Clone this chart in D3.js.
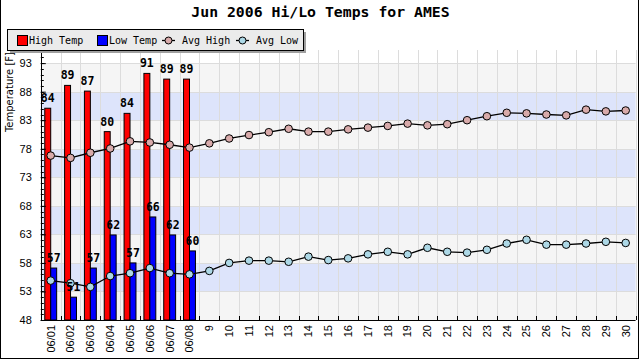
<!DOCTYPE html>
<html><head><meta charset="utf-8">
<script src="https://cdn.jsdelivr.net/npm/d3@7"></script>
<style>body{margin:0;background:#fff}svg{display:block}</style>
</head><body>
<svg id="c" width="640" height="360"></svg>
<script>
const categories = ["06/01","06/02","06/03","06/04","06/05","06/06","06/07","06/08","9","10","11","12","13","14","15","16","17","18","19","20","21","22","23","24","25","26","27","28","29","30"];
const highTemp = [85.1, 89.1, 88.1, 81.0, 84.2, 91.2, 90.2, 90.2];
const lowTemp = [57.1, 52.0, 57.1, 62.9, 58.0, 66.05, 62.9, 60.1];
const highLabels = ["84","89","87","80","84","91","89","89"];
const lowLabels = ["57","51","57","62","57","66","62","60"];
const avgHigh = [76.8,76.4,77.3,78.05,79.3,79.1,78.7,78.2,78.95,79.8,80.4,80.9,81.5,81.0,81.0,81.4,81.7,82.0,82.4,82.1,82.3,83.0,83.7,84.3,84.2,84.0,83.85,84.85,84.55,84.7];
const avgLow = [54.9,54.45,53.8,55.7,56.2,57.1,56.2,56.0,56.6,58.0,58.4,58.4,58.2,59.1,58.5,58.8,59.5,59.95,59.5,60.65,59.95,59.8,60.3,61.4,62.05,61.2,61.2,61.4,61.7,61.5];
const yTicks = [48,53,58,63,68,73,78,83,88,93];
const seriesNames = ["High Temp","Low Temp","Avg High","Avg Low"];
const title = "Jun 2006 Hi/Lo Temps for AMES";
const yTitle = "Temperature [F]";

const svg = d3.select("#c");
const L = 40.8, R = 635.6, T = 50, B = 320;
const x = d3.scaleBand().domain(categories).range([L, R]).padding(0);
const y = d3.scaleLinear().domain([48, 95.3]).range([B, T]);
const bw = x.bandwidth();
const inner = d3.scaleBand().domain(["high","low"]).range([-bw*0.3, bw*0.3]).padding(0);
const cx = c => x(c) + bw/2;

// outer frame
svg.append("line").attr("x1",0.5).attr("x2",0.5).attr("y1",0).attr("y2",358.5).attr("stroke","#000");
svg.append("line").attr("x1",638.5).attr("x2",638.5).attr("y1",0).attr("y2",358.5).attr("stroke","#000");
svg.append("line").attr("x1",0).attr("x2",639).attr("y1",358.5).attr("y2",358.5).attr("stroke","#000");

// plot background
svg.append("rect").attr("x",L).attr("y",T).attr("width",R-L).attr("height",B-T).attr("fill","#ffffff");
// bands
for (let i = 0; i < yTicks.length - 1; i++) {
  const a = yTicks[i], b = yTicks[i+1];
  svg.append("rect").attr("x",L).attr("width",R-L)
    .attr("y",y(b)).attr("height",y(a)-y(b))
    .attr("fill", i % 2 === 0 ? "#f5f5f5" : "#dde4fb");
}
// horizontal grid
svg.append("g").selectAll("line").data(yTicks.slice(1)).join("line")
  .attr("x1",L).attr("x2",R).attr("y1",d=>Math.round(y(d))+0.5).attr("y2",d=>Math.round(y(d))+0.5)
  .attr("stroke","#dcdcdc");
// vertical grid at category boundaries
const bounds = categories.map(c => x(c)).concat([R]);
svg.append("g").selectAll("line").data(bounds.slice(1)).join("line")
  .attr("x1",d=>Math.round(d)+0.5).attr("x2",d=>Math.round(d)+0.5).attr("y1",T).attr("y2",B)
  .attr("stroke","#dcdcdc");

// bars
const barG = svg.append("g");
barG.selectAll("rect.h").data(highTemp).join("rect").attr("class","h")
  .attr("x",(d,i)=>cx(categories[i])+inner("high")).attr("width",inner.bandwidth())
  .attr("y",d=>y(d)).attr("height",d=>B-y(d))
  .attr("fill","#ff0000").attr("stroke","#000").attr("stroke-width",1);
barG.selectAll("rect.l").data(lowTemp).join("rect").attr("class","l")
  .attr("x",(d,i)=>cx(categories[i])+inner("low")).attr("width",inner.bandwidth())
  .attr("y",d=>y(d)).attr("height",d=>B-y(d))
  .attr("fill","#0000ff").attr("stroke","#000").attr("stroke-width",1);

// y axis
const yAxis = d3.axisLeft(y).tickValues(yTicks).tickSize(-5).tickPadding(9).tickFormat(d3.format("d"));
const ya = svg.append("g").attr("transform",`translate(${L},0)`).call(yAxis);
ya.select(".domain").remove();
ya.selectAll("text").attr("font-family","Liberation Sans, Arial, sans-serif").attr("font-size",11).attr("fill","#000");
const minor = d3.range(48, 96, 1);
svg.append("g").selectAll("line").data(minor).join("line")
  .attr("x1",L).attr("x2",L+3).attr("y1",d=>Math.round(y(d))+0.5).attr("y2",d=>Math.round(y(d))+0.5)
  .attr("stroke","#000");
svg.append("line").attr("x1",Math.round(L)+0.5).attr("x2",Math.round(L)+0.5).attr("y1",T).attr("y2",B).attr("stroke","#000");

// x axis
const xAxis = d3.axisBottom(x).tickSize(0);
const xa = svg.append("g").attr("transform",`translate(0,${B})`).call(xAxis);
xa.select(".domain").remove();
xa.selectAll("text").attr("transform","rotate(-90)").attr("x",-5).attr("y",0).attr("dy","0.35em")
  .attr("text-anchor","end").attr("font-family","Liberation Sans, Arial, sans-serif").attr("font-size",11).attr("fill","#000");
svg.append("line").attr("x1",L).attr("x2",R).attr("y1",B+0.5).attr("y2",B+0.5).attr("stroke","#000");
svg.append("g").selectAll("line").data(bounds.slice(1)).join("line")
  .attr("x1",d=>Math.round(d)+0.5).attr("x2",d=>Math.round(d)+0.5).attr("y1",B-4).attr("y2",B)
  .attr("stroke","#000");

// lines
const line = d3.line().x((d,i)=>cx(categories[i])).y(d=>y(d));
function drawLine(data, fill) {
  svg.append("path").datum(data).attr("d",line).attr("fill","none").attr("stroke","#000").attr("stroke-width",1.3);
  svg.append("g").selectAll("circle").data(data).join("circle")
    .attr("cx",(d,i)=>cx(categories[i])).attr("cy",d=>y(d)).attr("r",3.8)
    .attr("fill",fill).attr("stroke","#000").attr("stroke-width",1);
}
drawLine(avgHigh, "#d8aaaa");
drawLine(avgLow, "#add8e6");

// bar value labels
const lf = "DejaVu Sans Mono, monospace";
svg.append("g").selectAll("text").data(highTemp).join("text")
  .attr("x",(d,i)=>cx(categories[i])+inner("high")+inner.bandwidth()/2).attr("y",d=>y(d)-6)
  .attr("text-anchor","middle").attr("font-family",lf).attr("font-weight","bold").attr("font-size",11.5)
  .text((d,i)=>highLabels[i]);
svg.append("g").selectAll("text").data(lowTemp).join("text")
  .attr("x",(d,i)=>cx(categories[i])+inner("low")+inner.bandwidth()/2).attr("y",d=>y(d)-6)
  .attr("text-anchor","middle").attr("font-family",lf).attr("font-weight","bold").attr("font-size",11.5)
  .text((d,i)=>lowLabels[i]);

// title
svg.append("text").attr("x",320.5).attr("y",17).attr("text-anchor","middle")
  .attr("font-family",lf).attr("font-weight","bold").attr("font-size",14.8).text(title);

// y title
svg.append("text").attr("transform","translate(12.5,52) rotate(-90)").attr("text-anchor","end")
  .attr("font-family","DejaVu Sans, sans-serif").attr("font-size",10).text(yTitle);

// legend
const lg = svg.append("g");
lg.append("rect").attr("x",10).attr("y",32).attr("width",296).attr("height",21).attr("fill","#a0a0a0");
lg.append("rect").attr("x",7.5).attr("y",29.5).attr("width",296).attr("height",21).attr("fill","#ebebeb").attr("stroke","#000");
const legItems = [
  {name: seriesNames[0], type:"bar", color:"#ff0000", x:17},
  {name: seriesNames[1], type:"bar", color:"#0000ff", x:97},
  {name: seriesNames[2], type:"line", color:"#d8aaaa", x:162},
  {name: seriesNames[3], type:"line", color:"#add8e6", x:236}
];
legItems.forEach(it => {
  if (it.type === "bar") {
    lg.append("rect").attr("x",it.x+0.5).attr("y",35.5).attr("width",10).attr("height",10).attr("fill",it.color).attr("stroke","#000");
    lg.append("text").attr("x",it.x+12).attr("y",44).attr("font-family",lf).attr("font-size",10).text(it.name);
  } else {
    lg.append("line").attr("x1",it.x).attr("x2",it.x+13).attr("y1",40.5).attr("y2",40.5).attr("stroke","#000").attr("stroke-width",1.3);
    lg.append("circle").attr("cx",it.x+6.5).attr("cy",40.5).attr("r",3.5).attr("fill",it.color).attr("stroke","#000");
    lg.append("text").attr("x",it.x+20).attr("y",44).attr("font-family",lf).attr("font-size",10).text(it.name);
  }
});
</script>
</body></html>
